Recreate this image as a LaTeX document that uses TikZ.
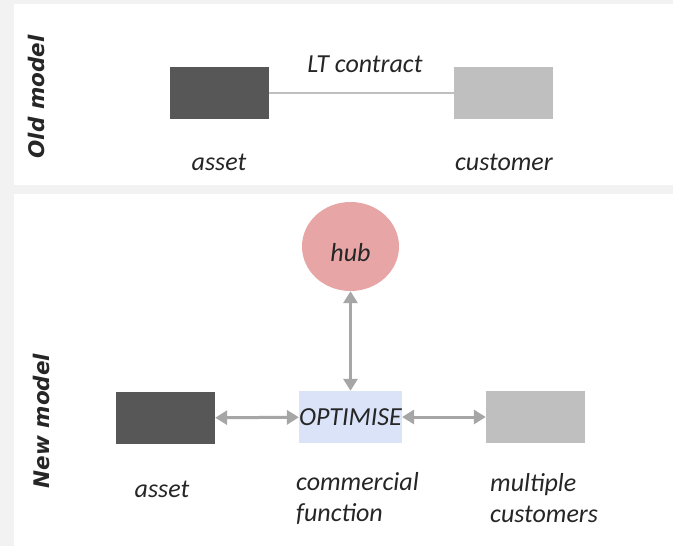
\documentclass[tikz,border=0pt]{standalone}
\usepackage{fontspec}
\setmainfont{Carlito}
\newfontfamily\tagfont{DejaVu Sans}
\usetikzlibrary{arrows.meta,positioning,shapes.geometric}

\definecolor{pagegray}{HTML}{F2F2F2}
\definecolor{boxdark}{HTML}{575757}
\definecolor{boxlight}{HTML}{BFBFBF}
\definecolor{hubred}{HTML}{E8A5A6}
\definecolor{optblue}{HTML}{DAE3F8}
\definecolor{arrowgray}{HTML}{A6A6A6}
\definecolor{inkgray}{HTML}{262626}

\begin{document}
\begin{tikzpicture}[x=1pt,y=-1pt,>={Triangle[width=14pt,length=12pt]},
 unit/.style={minimum width=99pt,minimum height=52pt,inner sep=0pt},
 darkbox/.style={unit,fill=boxdark},
 lightbox/.style={unit,fill=boxlight},
 optbox/.style={unit,fill=optblue,text=inkgray,font=\itshape\fontsize{26}{31}\selectfont},
 hubnode/.style={ellipse,fill=hubred,minimum width=97pt,minimum height=89pt,inner sep=0pt,text height=29pt,text depth=0pt,text=inkgray,font=\itshape\fontsize{26}{31}\selectfont},
 lbl/.style={inner sep=0pt,text=inkgray,font=\itshape\fontsize{26}{31.5}\selectfont},
 tag/.style={inner sep=0pt,rotate=90,text=inkgray,font=\tagfont\bfseries\itshape\fontsize{21.5}{26}\selectfont},
 link/.style={draw=arrowgray,line width=3pt,<->}]
\useasboundingbox (0,0) rectangle (673,546);
\fill[pagegray] (0,0) rectangle (673,546);
\fill[white] (14,4) rectangle (673,185);
\fill[white] (14,194) rectangle (673,546);

% old model
\node[tag] (oldtag) at (36,97) {Old model};
\node[darkbox] (oldasset) at (219.5,93) {};
\node[lightbox] (oldcust) at (503.5,93) {};
\draw[boxlight,line width=2.5pt] (oldasset.east) -- (oldcust.west);
\node[lbl,anchor=base] (ltc) at (365,72) {LT contract};
\node[lbl,anchor=base] (oldassetlbl) at (219,170) {asset};
\node[lbl,anchor=base] (oldcustlbl) at (504,170) {customer};

% new model
\node[tag] (newtag) at (41,421) {New model};
\node[hubnode] (hub) at (350.5,246.5) {hub};
\node[optbox] (opt) at (350.5,417) {OPTIMISE};
\node[darkbox] (newasset) at (165.5,418) {};
\node[lightbox] (newcust) at (535.5,417) {};
\draw[link] (hub) -- (opt);
\draw[link] (newasset) -- (opt);
\draw[link] (opt) -- (newcust);
\node[lbl,anchor=base] (newassetlbl) at (162,497) {asset};
\node[lbl,anchor=north west,align=left] (comlbl) at (296,472) {commercial\\function};
\node[lbl,anchor=north west,align=left] (multlbl) at (490,473) {multiple\\customers};
\end{tikzpicture}
\end{document}
